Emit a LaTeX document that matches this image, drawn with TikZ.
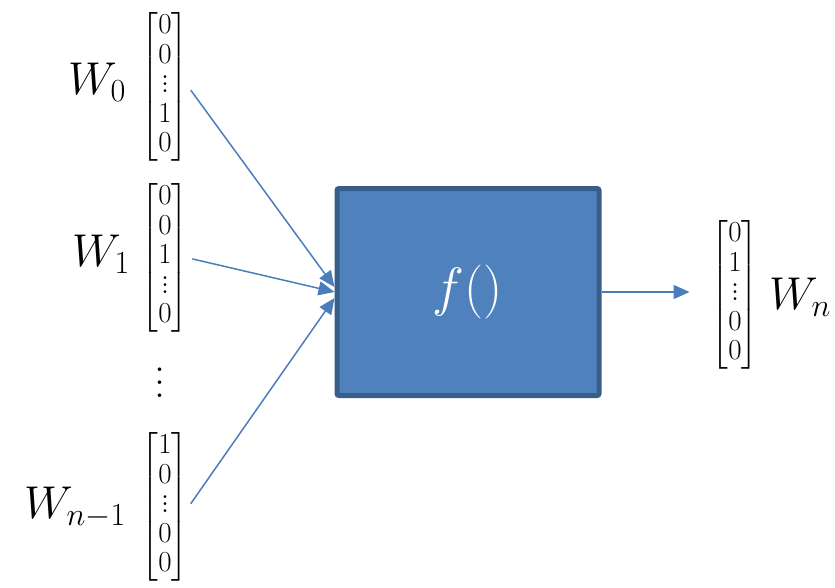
\RequirePackage{fix-cm}
\documentclass[tikz,border=0pt]{standalone}
\usepackage{amsmath}
\usetikzlibrary{arrows.meta}

\definecolor{boxfill}{HTML}{4F81BD}
\definecolor{boxline}{HTML}{385D8A}
\definecolor{linkcol}{HTML}{4A7EBB}

% dots inside a column vector
\newcommand{\coldots}{\vbox{\fontsize{34}{7}\selectfont\baselineskip7pt\lineskiplimit0pt\kern0pt\hbox{.}\hbox{.}\hbox{.}}}
% dots between the vectors
\newcommand{\gapdots}{\vbox{\fontsize{44}{13}\selectfont\baselineskip13pt\lineskiplimit0pt\hbox{.}\hbox{.}\hbox{.}}}
\newcommand{\onehot}[5]{\fontsize{29}{29.5}\selectfont\setlength{\arraycolsep}{1.5pt}$\begin{bmatrix}#1\\#2\\#3\\#4\\#5\end{bmatrix}$}

\begin{document}
\begin{tikzpicture}[x=1pt,y=-1pt]
		\tikzstyle{vec}=[inner sep=0pt];
		\tikzstyle{lbl}=[inner sep=0pt,font=\fontsize{46}{50}\selectfont];
		\tikzstyle{funcbox}=[draw=boxline,fill=boxfill,line width=5pt,rounded corners=2pt,
			minimum width=262pt,minimum height=207pt,text=white,font=\fontsize{54}{58}\selectfont];
		\tikzstyle{link}=[draw=linkcol,line width=1.5pt,-{Triangle[length=16pt,width=14pt]}];
		\useasboundingbox (0,0) rectangle (835,587);
		% inputs
		\node[vec] (v0) at (165,87) {\onehot00{\coldots}10};
		\node[vec] (v1) at (165,258) {\onehot001{\coldots}0};
		\node[vec] (vn) at (165,507) {\onehot10{\coldots}00};
		\node[lbl] (w0) at (97,82) {$W_0$};
		\node[lbl] (w1) at (101,254) {$W_1$};
		\node[lbl] (wn) at (75,508) {$W_{n-1}$};
		\node (gap) at (160,383) {\gapdots};
		% function
		\node[funcbox] (f) at (468,292) {$f()$};
		% output
		\node[vec] (vo) at (735,295) {\onehot01{\coldots}00};
		\node[lbl] (wo) at (800,297) {$W_n$};
		\draw[link,shorten <=4pt] (v0.east) -- ([yshift=5pt]f.west);
		\draw[link,shorten <=4pt] (v1.east) -- ([yshift=0pt]f.west);
		\draw[link,shorten <=4pt] (vn.east) -- ([yshift=-6pt]f.west);
		\draw[link,shorten >=22pt] (f.east) -- (vo.west |- f.east);
	\end{tikzpicture}
\end{document}
